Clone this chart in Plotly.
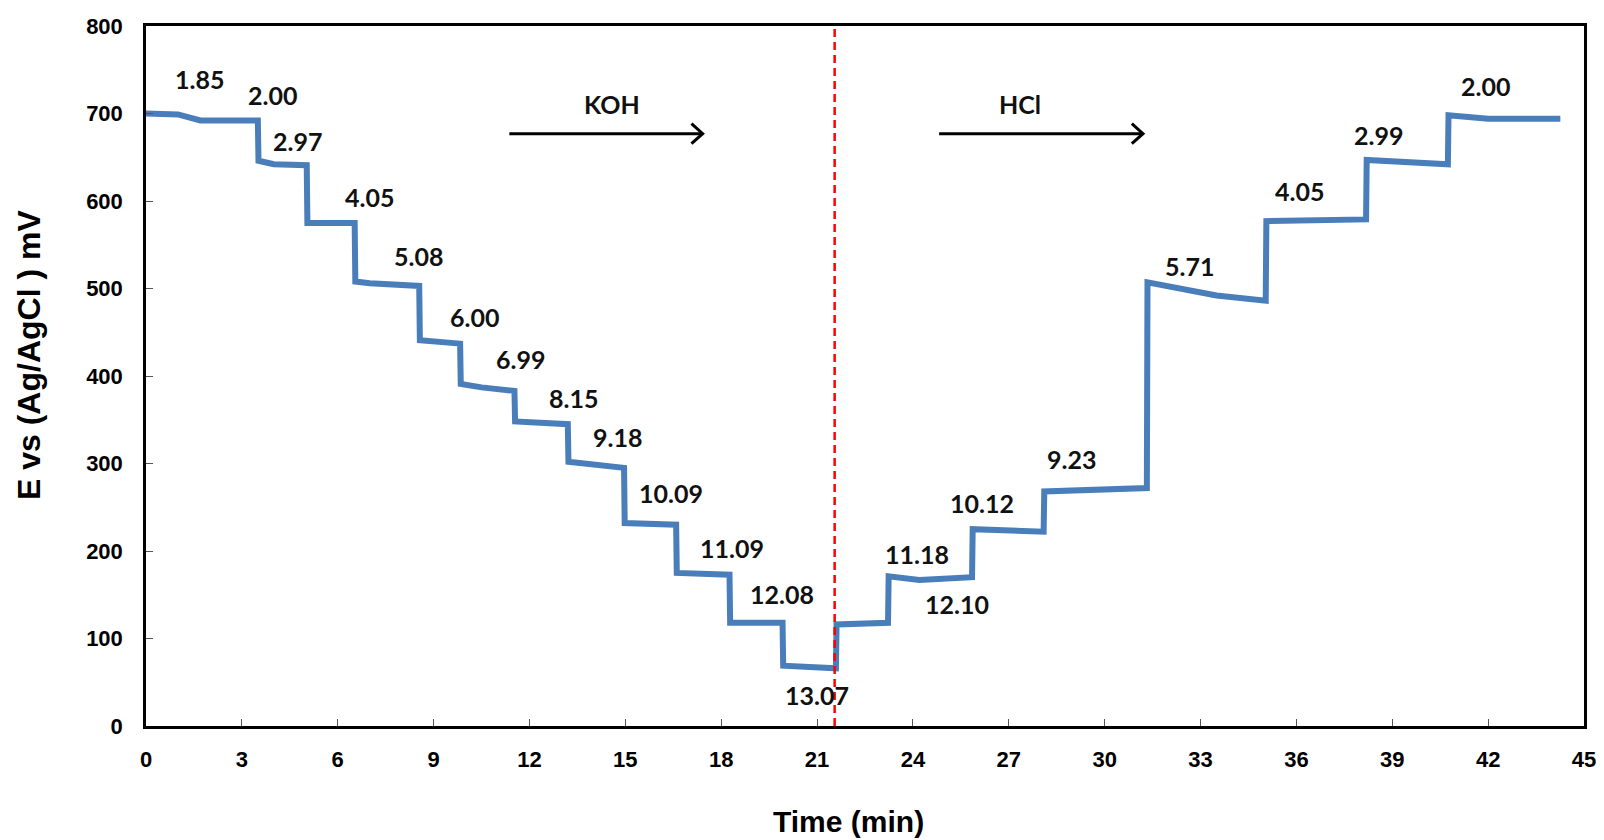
import plotly.graph_objects as go

# Step titration trace: time (min) and potential (mV)
time_min = [0.0, 1.0, 1.7, 3.5, 3.52, 4.0, 5.03, 5.05, 6.53, 6.55, 7.0, 8.55, 8.57, 9.2, 9.83, 9.85,
            10.5, 11.53, 11.55, 13.2, 13.22, 14.96, 14.98, 16.59, 16.61, 18.26, 18.28,
            19.92, 19.94, 21.59, 21.61, 23.22, 23.24, 24.2, 25.85, 25.87, 28.09, 28.11,
            31.32, 31.34, 32.5, 33.5, 35.04, 35.06, 38.18, 38.2, 40.74, 40.76, 42.0, 44.26]
potential_mv = [700, 699, 692, 692, 646, 642, 641, 575, 575, 508, 506, 503, 441, 439, 437, 391,
                387, 383, 348, 345, 302, 295, 232, 230, 175, 173, 118, 118,
                69, 66, 116, 118, 171, 167, 170, 225, 222, 268, 272,
                507, 498, 492, 486, 577, 579, 647, 642, 698, 694, 694]

# pH annotations: text, time, potential
ph_labels = ["1.85", "2.00", "2.97", "4.05", "5.08", "6.00", "6.99", "8.15", "9.18", "10.09",
             "11.09", "12.08", "13.07", "11.18", "12.10", "10.12", "9.23", "5.71", "4.05",
             "2.99", "2.00"]
ph_t = [1.67, 3.97, 4.74, 6.98, 8.52, 10.28, 11.72, 13.39, 14.77, 16.43, 18.35, 19.89,
        21.01, 24.12, 25.37, 26.17, 28.96, 32.67, 36.1, 38.57, 41.93]
ph_e = [739, 721, 669, 605, 537, 467, 419, 375, 330, 266, 203, 151, 36, 197, 139, 255,
        305, 526, 611, 676, 732]

# reagent arrows
reagents = ["KOH", "HCl"]
arrow_start = [11.37, 24.82]
arrow_end = [17.42, 31.2]
reagent_text_t = [14.57, 27.35]
arrow_e = 677
reagent_text_e = 711

divider_t = 21.55
x_ticks = list(range(0, 46, 3))
y_ticks = list(range(0, 801, 100))

fig = go.Figure()
fig.add_trace(go.Scatter(x=time_min, y=potential_mv, mode="lines",
                         line=dict(color="#4a7ebb", width=6), showlegend=False))
fig.add_trace(go.Scatter(x=[divider_t, divider_t], y=[0, 800], mode="lines",
                         line=dict(color="#ff0000", width=2.5, dash="8px,5px"), showlegend=False))

for txt, t, e in zip(ph_labels, ph_t, ph_e):
    fig.add_annotation(x=t, y=e, text=txt, showarrow=False,
                       font=dict(family="Lato", size=25, color="#111111", weight="bold"))

head_dt, head_de = 0.35, 11.5
for name, x0, x1, tx in zip(reagents, arrow_start, arrow_end, reagent_text_t):
    fig.add_shape(type="line", x0=x0, x1=x1, y0=arrow_e, y1=arrow_e, xref="x", yref="y",
                  line=dict(color="#000000", width=3))
    fig.add_shape(type="path", xref="x", yref="y",
                  path=f"M {x1 - head_dt} {arrow_e + head_de} L {x1} {arrow_e} L {x1 - head_dt} {arrow_e - head_de}",
                  line=dict(color="#000000", width=3))
    fig.add_annotation(x=tx, y=reagent_text_e, text=name, showarrow=False,
                       font=dict(family="Lato", size=25, color="#111111", weight="bold"))

fig.add_annotation(x=0, y=0.53, xref="paper", yref="paper", xshift=-117, xanchor="center",
                   yanchor="middle", text="E vs (Ag/AgCl ) mV", textangle=-90, showarrow=False,
                   font=dict(family="Liberation Sans", size=32, color="#000000", weight="bold"))
fig.add_annotation(x=21.97, y=0, xref="x", yref="paper", yshift=-95, xanchor="center",
                   yanchor="middle", text="Time (min)", showarrow=False,
                   font=dict(family="Liberation Sans", size=30, color="#000000", weight="bold"))

fig.update_xaxes(range=[0, 45], tickvals=x_ticks, ticks="inside", ticklen=7, tickcolor="#555555",
                 showline=True, linecolor="#000000", linewidth=2.5, mirror=True, showgrid=False,
                 zeroline=False, ticklabelstandoff=12, automargin=False,
                 tickfont=dict(family="Liberation Sans", size=22, color="#000000", weight="bold"))
fig.update_yaxes(range=[0, 800], tickvals=y_ticks, ticks="inside", ticklen=7, tickcolor="#555555",
                 showline=True, linecolor="#000000", linewidth=2.5, mirror=True, showgrid=False,
                 zeroline=False, ticklabelstandoff=16, automargin=False,
                 tickfont=dict(family="Liberation Sans", size=22, color="#000000", weight="bold"))

fig.update_layout(width=1596, height=832, plot_bgcolor="white", paper_bgcolor="white",
                  margin=dict(l=138, r=20, t=18, b=114))

fig.write_html("out.html")
